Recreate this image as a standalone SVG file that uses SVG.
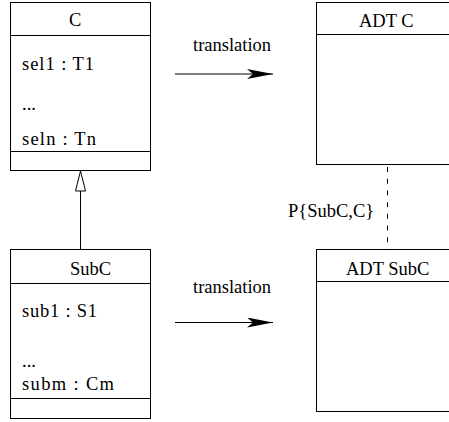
<svg xmlns="http://www.w3.org/2000/svg" width="449" height="422" viewBox="0 0 449 422">
  <style>
    .box { fill: #ffffff; stroke: #000000; stroke-width: 1; }
    .sep { stroke: #000000; stroke-width: 1; }
    .txt { font-family: 'Liberation Serif', 'Times New Roman', Times, 'DejaVu Serif', serif; font-size: 18.5px; fill: #000000; }
    .edge { stroke: #000000; stroke-width: 1; fill: none; }
  </style>
  <defs>
    <marker id="barb" viewBox="0 0 26 10" refX="26" refY="5" markerWidth="26" markerHeight="10" markerUnits="userSpaceOnUse" orient="auto">
      <path d="M0,0 L26,5 L0,10 L6,5 Z" fill="#000000"/>
    </marker>
    <marker id="inherit" viewBox="0 0 22 12" refX="21" refY="6" markerWidth="22" markerHeight="12" markerUnits="userSpaceOnUse" orient="auto">
      <path d="M1,1 L21,6 L1,11 Z" fill="#ffffff" stroke="#000000" stroke-width="1"/>
    </marker>
  </defs>

  <g id="node-C">
    <rect class="box" x="10.5" y="2.5" width="140" height="168"/>
    <line class="sep" x1="10.5" y1="35.5" x2="150.5" y2="35.5"/>
    <line class="sep" x1="10.5" y1="151.5" x2="150.5" y2="151.5"/>
    <text class="txt" font-family="Liberation Serif, serif" x="69" y="26">C</text>
    <text class="txt" x="22" y="70" textLength="72" lengthAdjust="spacing">sel1 : T1</text>
    <text class="txt" x="22" y="110">...</text>
    <text class="txt" x="22" y="145" textLength="74" lengthAdjust="spacing">seln : Tn</text>
  </g>

  <g id="node-SubC">
    <rect class="box" x="10.5" y="249.5" width="140" height="169"/>
    <line class="sep" x1="10.5" y1="283.5" x2="150.5" y2="283.5"/>
    <line class="sep" x1="10.5" y1="398.5" x2="150.5" y2="398.5"/>
    <text class="txt" x="70" y="275">SubC</text>
    <text class="txt" x="22" y="317" textLength="75" lengthAdjust="spacing">sub1 : S1</text>
    <text class="txt" x="22" y="367">...</text>
    <text class="txt" x="22" y="390" textLength="92" lengthAdjust="spacing">subm : Cm</text>
  </g>

  <g id="node-ADT-C">
    <rect class="box" x="316.5" y="2.5" width="150" height="162"/>
    <line class="sep" x1="316.5" y1="34.5" x2="466.5" y2="34.5"/>
    <text class="txt" x="359" y="27">ADT C</text>
  </g>

  <g id="node-ADT-SubC">
    <rect class="box" x="316.5" y="249.5" width="150" height="162"/>
    <line class="sep" x1="316.5" y1="281.5" x2="466.5" y2="281.5"/>
    <text class="txt" x="346" y="275">ADT SubC</text>
  </g>

  <g id="connectors">
    <!-- generalisation SubC -> C -->
    <line class="edge" x1="80.5" y1="249" x2="80.5" y2="171" marker-end="url(#inherit)"/>
    <!-- translation arrows -->
    <line class="edge" x1="175" y1="74" x2="273" y2="74" marker-end="url(#barb)"/>
    <text class="txt" x="193" y="51">translation</text>
    <line class="edge" x1="175" y1="322.5" x2="273" y2="322.5" marker-end="url(#barb)"/>
    <text class="txt" x="193" y="293">translation</text>
    <!-- dependency between ADTs -->
    <line class="edge" x1="387.5" y1="165" x2="387.5" y2="249" stroke-dasharray="5 6.7" stroke-dashoffset="-2"/>
    <text class="txt" x="288" y="217">P{SubC,C}</text>
  </g>
</svg>
